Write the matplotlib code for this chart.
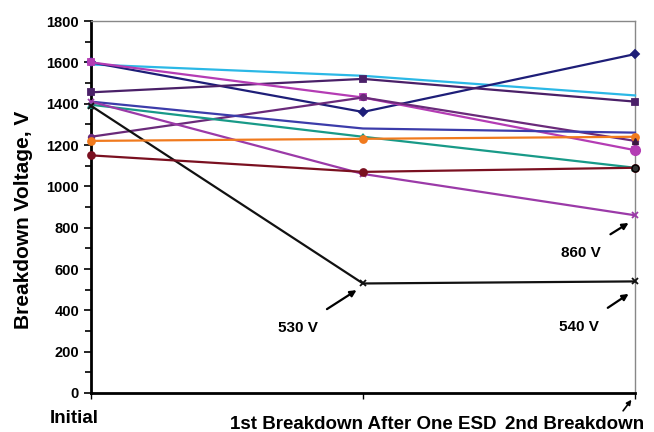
import numpy as np
import matplotlib.pyplot as plt
from matplotlib.ticker import MultipleLocator

plt.rcParams['font.family'] = ['Liberation Sans', 'DejaVu Sans']
plt.rcParams['font.weight'] = 'bold'

# category positions: Initial, 1st breakdown after one ESD, 2nd breakdown
stages = ['Initial', '1st Breakdown After One ESD', '2nd Breakdown']
x = [0, 1, 2]

# breakdown voltage of each device (V)
navy_v = [1600, 1360, 1640]
cyan_v = [1590, 1535, 1440]
dpurple_v = [1455, 1520, 1410]
magenta_v = [1600, 1430, 1175]
violet_v = [1240, 1430, 1220]
blue_v = [1410, 1280, 1260]
teal_v = [1395, 1240, 1090]
purple_v = [1410, 1060, 860]
black_v = [1390, 530, 540]
orange_v = [1220, 1230, 1240]
dred_v = [1150, 1070, 1090]

series = [
    (cyan_v, '#2bb8e6', None, 4),
    (navy_v, '#1e1e78', 'D', 4),
    (dpurple_v, '#4a2068', 's', 5),
    (magenta_v, '#b43cb4', 's', 5),
    (violet_v, '#6a2a7a', 'o', 4),
    (blue_v, '#3c3caa', None, 4),
    (teal_v, '#189a88', '^', 4),
    (purple_v, '#9b3aa8', 'x', 5),
    (black_v, '#111111', 'x', 5),
    (orange_v, '#f07a1e', 'o', 5),
    (dred_v, '#7a1020', 'o', 5),
]

fig = plt.figure(figsize=(6.54, 4.32), dpi=100)
ax = fig.add_axes([0.139, 0.0903, 0.832, 0.861])

for vals, col, mk, ms in series:
    ax.plot(x, vals, color=col, lw=1.6, marker=mk, markersize=ms,
            markeredgewidth=1.3, clip_on=False, zorder=3)

# end markers that differ from the start ones
ax.plot(2, magenta_v[2], 'o', color='#b43cb4', ms=7, clip_on=False, zorder=4)
ax.plot(2, dred_v[2], 'o', mfc='#333333', mec='black', ms=5, clip_on=False, zorder=4)
ax.plot(2, violet_v[2], '^', color='#3a1a40', ms=5, clip_on=False, zorder=4)

ax.set_xlim(0, 2)
ax.set_ylim(0, 1800)
ax.yaxis.set_major_locator(MultipleLocator(200))
ax.yaxis.set_minor_locator(MultipleLocator(100))
ax.set_xticks(x)
ax.set_xticklabels([])
ax.tick_params(axis='y', which='both', direction='out', labelsize=10.5, width=1.2)
ax.tick_params(axis='y', which='major', length=5)
ax.tick_params(axis='y', which='minor', length=4)
ax.tick_params(axis='x', direction='out', length=4, width=1)
for lbl in ax.get_yticklabels():
    lbl.set_fontweight('bold')

ax.spines['left'].set_linewidth(2)
ax.spines['bottom'].set_linewidth(2)
ax.spines['top'].set_color('#888888')
ax.spines['right'].set_color('#888888')
ax.spines['top'].set_linewidth(1)
ax.spines['right'].set_linewidth(1)

ax.set_ylabel('Breakdown Voltage, V', fontsize=15, fontweight='bold')
ax.yaxis.set_label_coords(-0.106, 0.465)

# category labels
ax.text(-0.15, -0.068, stages[0], transform=ax.get_xaxis_transform(),
        ha='left', va='center', fontsize=13.5, fontweight='bold')
ax.text(1.0, -0.084, stages[1], transform=ax.get_xaxis_transform(),
        ha='center', va='center', fontsize=13.5, fontweight='bold')
ax.text(1.776, -0.084, stages[2], transform=ax.get_xaxis_transform(),
        ha='center', va='center', fontsize=13.5, fontweight='bold')

arw = dict(arrowstyle='-|>', color='black', lw=1.6, mutation_scale=9)
ax.annotate('530 V', xy=(0.985, 505), xytext=(0.76, 315), fontsize=11,
            fontweight='bold', ha='center', va='center', arrowprops=dict(arw, shrinkA=12))
ax.annotate('540 V', xy=(1.985, 487), xytext=(1.795, 320), fontsize=11,
            fontweight='bold', ha='center', va='center', arrowprops=dict(arw, shrinkA=12))
ax.annotate('860 V', xy=(1.985, 830), xytext=(1.8, 678), fontsize=11,
            fontweight='bold', ha='center', va='center', arrowprops=dict(arw, shrinkA=12))
ax.annotate('', xy=(1.993, -22), xytext=(1.95, -97), annotation_clip=False,
            arrowprops=dict(arw, lw=1.2, mutation_scale=7))

fig.savefig('out.png', dpi=100)
